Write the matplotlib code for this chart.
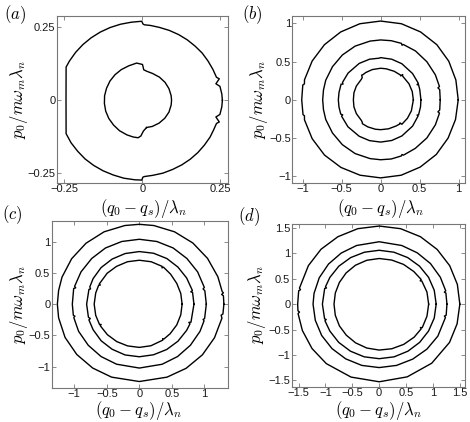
import matplotlib
matplotlib.use('Agg')
import matplotlib.pyplot as plt
import numpy as np

plt.rcParams['mathtext.fontset'] = 'cm'
plt.rcParams['font.family'] = ['Liberation Sans', 'DejaVu Sans']

# ---------------- data: closed orbits as (angle in degrees, radius) ----------------
# panel (a)
A_OUT = [(0, 0.258), (5, 0.257), (10.9, 0.2546), (13.5, 0.2438), (16.6, 0.2588),
         (18.3, 0.2517), (25, 0.251), (32.5, 0.251), (40, 0.252), (47.5, 0.252),
         (55, 0.253), (62.5, 0.254), (70, 0.255), (77.5, 0.256), (84, 0.258), (88.5, 0.259),
         (89.5, 0.262), (90.3, 0.271), (97.5, 0.270), (105, 0.270), (112.5, 0.270),
         (120, 0.270), (127.5, 0.270), (135, 0.270), (142.5, 0.270), (150, 0.270),
         (155, 0.270), (180, 0.245), (205, 0.270), (212.5, 0.271), (220, 0.271),
         (227.5, 0.272), (235, 0.272), (242.5, 0.272), (250, 0.272), (257.5, 0.273),
         (265, 0.273), (269.7, 0.273), (270.5, 0.263), (271.5, 0.261), (277.5, 0.259),
         (285, 0.258), (292.5, 0.256), (300, 0.255), (307.5, 0.254), (315, 0.253),
         (322.5, 0.252), (330, 0.252), (336, 0.251), (341.7, 0.2517), (343.4, 0.2588),
         (346.5, 0.2438), (349.1, 0.2546), (355, 0.257)]
A_IN = [(-81.4, 0.094), (-70, 0.095), (-55, 0.095), (-40, 0.095), (-25, 0.095),
        (-10, 0.0945), (0, 0.0945), (10, 0.0945), (25, 0.095), (40, 0.096), (55, 0.097),
        (70, 0.098), (82, 0.101), (87.3, 0.105), (89.5, 0.123), (98, 0.129), (110, 0.126),
        (122.5, 0.125), (135, 0.124), (147.5, 0.123), (160, 0.122), (172.5, 0.122),
        (185, 0.122), (197.5, 0.123), (210, 0.124), (222.5, 0.125), (235, 0.127),
        (247.5, 0.128), (257, 0.1287), (264.2, 0.1287), (268, 0.122), (272.2, 0.105)]

# panel (b)
B_1 = [(0, 0.996), (15, 1.0), (30, 1.01), (45, 1.02), (60, 1.025), (75, 1.03), (90, 1.03),
       (105, 1.03), (120, 1.025), (135, 1.02), (150, 1.015), (165, 1.012), (168, 1.0),
       (169, 1.018), (180, 1.013), (191, 1.015), (192, 1.0), (195, 1.012), (210, 1.015),
       (225, 1.02), (240, 1.02), (255, 1.02), (270, 1.02), (285, 1.02), (300, 1.015),
       (315, 1.01), (330, 1.0), (345, 0.995)]
B_2 = [(0, 0.765), (10, 0.77), (12, 0.752), (13, 0.775), (25, 0.775), (40, 0.775),
       (55, 0.78), (68, 0.78), (69, 0.765), (70, 0.785), (80, 0.785), (90, 0.783),
       (100, 0.78), (115, 0.775), (130, 0.765), (145, 0.755), (160, 0.75), (170, 0.745),
       (180, 0.744), (190, 0.745), (200, 0.75), (215, 0.755), (230, 0.765), (245, 0.775),
       (260, 0.78), (270, 0.783), (280, 0.785), (290, 0.78), (291, 0.765), (292, 0.78),
       (305, 0.775), (320, 0.775), (335, 0.775), (347, 0.775), (348, 0.752), (350, 0.77)]
B_3 = [(0, 0.517), (15, 0.52), (22, 0.525), (23, 0.508), (24, 0.53), (40, 0.535),
       (60, 0.545), (75, 0.55), (90, 0.552), (92, 0.545), (105, 0.55), (120, 0.55),
       (140, 0.545), (155, 0.54), (157, 0.525), (158, 0.548), (170, 0.543), (180, 0.543),
       (190, 0.543), (200, 0.545), (202, 0.525), (203, 0.545), (220, 0.548), (240, 0.55),
       (255, 0.552), (270, 0.552), (285, 0.55), (300, 0.545), (320, 0.535), (336, 0.525),
       (337, 0.508), (338, 0.525), (350, 0.52)]
B_4 = [(0, 0.42), (15, 0.42), (30, 0.42), (48, 0.42), (49.5, 0.435), (50.5, 0.405),
       (52, 0.412), (65, 0.412), (80, 0.412), (90, 0.413), (105, 0.41), (118, 0.405),
       (125, 0.40), (127, 0.405), (129, 0.375), (133, 0.365), (150, 0.36), (165, 0.355),
       (180, 0.35), (195, 0.355), (210, 0.36), (227, 0.365), (231, 0.375), (233, 0.39),
       (245, 0.39), (260, 0.39), (270, 0.39), (285, 0.392), (300, 0.395), (308, 0.40),
       (309.5, 0.39), (310.5, 0.42), (325, 0.42), (340, 0.42)]

# panel (c)
C_1 = [(0, 1.30), (6, 1.30), (7, 1.275), (8, 1.305), (9, 1.29), (20, 1.285), (35, 1.28),
       (50, 1.28), (65, 1.28), (80, 1.28), (90, 1.28), (100, 1.28), (115, 1.28),
       (130, 1.275), (145, 1.27), (160, 1.265), (170, 1.26), (180, 1.26), (190, 1.26),
       (205, 1.26), (220, 1.255), (235, 1.25), (250, 1.245), (270, 1.24), (290, 1.245),
       (305, 1.255), (320, 1.265), (335, 1.275), (350, 1.29), (352, 1.27), (353, 1.295)]
C_2 = [(0, 1.03), (12, 1.03), (14, 1.01), (15, 1.035), (30, 1.035), (45, 1.035),
       (60, 1.04), (75, 1.04), (90, 1.04), (105, 1.04), (120, 1.04), (135, 1.035),
       (150, 1.035), (164, 1.035), (165, 1.012), (166, 1.04), (180, 1.03), (190, 1.03),
       (191, 1.008), (192, 1.03), (205, 1.03), (220, 1.025), (235, 1.025), (250, 1.024),
       (270, 1.024), (290, 1.025), (305, 1.025), (320, 1.025), (335, 1.03), (345, 1.03),
       (346, 1.01), (347, 1.03)]
C_3 = [(0, 0.84), (13, 0.84), (14, 0.815), (15, 0.845), (30, 0.84), (45, 0.84),
       (60, 0.845), (75, 0.845), (90, 0.843), (105, 0.84), (120, 0.835), (135, 0.83),
       (150, 0.82), (160, 0.81), (162, 0.788), (163, 0.81), (180, 0.81), (195, 0.81),
       (197, 0.788), (198, 0.815), (210, 0.82), (225, 0.83), (240, 0.835), (255, 0.843),
       (270, 0.843), (285, 0.84), (300, 0.84), (315, 0.84), (330, 0.84), (338, 0.84),
       (339, 0.815), (340, 0.845)]
C_4 = [(0, 0.658), (15, 0.66), (30, 0.665), (45, 0.68), (58, 0.70), (59, 0.678),
       (60, 0.70), (75, 0.704), (90, 0.704), (105, 0.704), (120, 0.70), (135, 0.70),
       (152, 0.695), (153, 0.673), (154, 0.695), (165, 0.694), (180, 0.694), (195, 0.694),
       (208, 0.693), (209, 0.671), (210, 0.693), (225, 0.693), (240, 0.693), (255, 0.693),
       (270, 0.693), (285, 0.69), (302, 0.68), (303, 0.658), (304, 0.675), (315, 0.67),
       (330, 0.665), (345, 0.66)]

# panel (d)
D_1 = [(0, 1.50), (15, 1.505), (30, 1.515), (45, 1.525), (60, 1.535), (75, 1.54),
       (90, 1.54), (105, 1.54), (120, 1.535), (135, 1.53), (150, 1.52), (168, 1.516),
       (169, 1.49), (170, 1.52), (180, 1.516), (185, 1.516), (186, 1.49), (187, 1.52),
       (200, 1.52), (215, 1.525), (230, 1.53), (250, 1.53), (270, 1.53), (290, 1.525),
       (310, 1.52), (330, 1.51), (345, 1.50)]
D_2 = [(0, 1.26), (10, 1.26), (11, 1.235), (12, 1.265), (25, 1.255), (40, 1.245),
       (55, 1.235), (70, 1.23), (90, 1.23), (110, 1.23), (125, 1.23), (140, 1.23),
       (155, 1.23), (170, 1.23), (180, 1.23), (195, 1.23), (210, 1.235), (225, 1.24),
       (240, 1.245), (255, 1.25), (270, 1.25), (285, 1.25), (300, 1.25), (315, 1.255),
       (330, 1.26), (348, 1.26), (349, 1.235), (350, 1.265)]
D_3 = [(0, 1.06), (15, 1.06), (30, 1.06), (45, 1.06), (60, 1.06), (75, 1.06),
       (90, 1.062), (105, 1.06), (120, 1.06), (135, 1.06), (150, 1.058), (161, 1.056),
       (162, 1.03), (163, 1.06), (180, 1.056), (196, 1.056), (197, 1.03), (198, 1.06),
       (210, 1.06), (225, 1.065), (240, 1.07), (255, 1.075), (270, 1.075), (285, 1.075),
       (300, 1.07), (315, 1.065), (330, 1.06), (345, 1.06)]
D_4 = [(0, 0.92), (15, 0.92), (30, 0.915), (31, 0.89), (32, 0.92), (45, 0.91),
       (60, 0.905), (75, 0.90), (90, 0.90), (105, 0.895), (120, 0.885), (135, 0.87),
       (150, 0.855), (165, 0.845), (180, 0.84), (195, 0.845), (210, 0.855), (225, 0.865),
       (240, 0.88), (255, 0.895), (270, 0.905), (285, 0.91), (300, 0.915), (315, 0.92),
       (328, 0.92), (329, 0.895), (330, 0.925), (345, 0.92)]

TICKS_A = [-0.25, 0, 0.25]
TICKLABELS_A = ['\u22120.25', '0', '0.25']
TICKS_BC = [-1, -0.5, 0, 0.5, 1]
TICKLABELS_BC = ['\u22121', '\u22120.5', '0', '0.5', '1']
TICKS_D = [-1.5, -1, -0.5, 0, 0.5, 1, 1.5]
TICKLABELS_D = ['\u22121.5', '\u22121', '\u22120.5', '0', '0.5', '1', '1.5']

XLABEL = r'$(q_0-q_s)/\lambda_n$'
YLABEL = r'$p_0/m\omega_m\lambda_n$'

# ---------------- figure ----------------
W, H = 470, 422
fig = plt.figure(figsize=(W / 100, H / 100), dpi=100)


def add_ax(l, r, t, b):
    return fig.add_axes([l / W, 1 - b / H, (r - l) / W, (b - t) / H])


def to_xy(curve):
    th = np.deg2rad([c[0] for c in curve] + [curve[0][0] + 360])
    r = np.array([c[1] for c in curve] + [curve[0][1]])
    return r * np.cos(th), r * np.sin(th)


def style(ax, ticks, labels, xlim, ylim):
    ax.set_xlim(*xlim)
    ax.set_ylim(*ylim)
    ax.set_xticks(ticks)
    ax.set_xticklabels(labels)
    ax.set_yticks(ticks)
    ax.set_yticklabels(labels)
    for s in ax.spines.values():
        s.set_color('#777777')
        s.set_linewidth(0.8)
    ax.tick_params(direction='in', length=3, width=0.6, top=True, right=True,
                   colors='#777777', labelcolor='#1a1a1a', labelsize=8, pad=1)


panels = [
    dict(box=(57, 228, 16, 183), curves=[A_OUT, A_IN], ticks=TICKS_A, labels=TICKLABELS_A,
         xlim=(-0.274, 0.276), ylim=(-0.283, 0.289), tag=r'$(a)$', tagpos=(15, 15),
         xl=(143, 208), yl=(19, 100)),
    dict(box=(292.3, 465, 16, 183), curves=[B_1, B_2, B_3, B_4], ticks=TICKS_BC,
         labels=TICKLABELS_BC, xlim=(-1.134, 1.083), ylim=(-1.087, 1.096), tag=r'$(b)$',
         tagpos=(252, 15), xl=(380, 208), yl=(259, 100)),
    dict(box=(51.7, 228.3, 221, 387.7), curves=[C_1, C_2, C_3, C_4], ticks=TICKS_BC,
         labels=TICKLABELS_BC, xlim=(-1.347, 1.368), ylim=(-1.339, 1.333), tag=r'$(c)$',
         tagpos=(12, 215), xl=(138, 410), yl=(19, 305)),
    dict(box=(291.7, 465, 224.3, 387), curves=[D_1, D_2, D_3, D_4], ticks=TICKS_D,
         labels=TICKLABELS_D, xlim=(-1.627, 1.596), ylim=(-1.633, 1.574), tag=r'$(d)$',
         tagpos=(249, 217), xl=(378, 410), yl=(257, 305)),
]

for p in panels:
    ax = add_ax(*p['box'])
    for c in p['curves']:
        x, y = to_xy(c)
        ax.plot(x, y, color='black', lw=1.0, solid_joinstyle='round')
    style(ax, p['ticks'], p['labels'], p['xlim'], p['ylim'])
    fig.text(p['tagpos'][0] / W, 1 - p['tagpos'][1] / H, p['tag'], fontsize=12,
             ha='center', va='center')
    fig.text(p['xl'][0] / W, 1 - p['xl'][1] / H, XLABEL, fontsize=12,
             ha='center', va='center')
    fig.text(p['yl'][0] / W, 1 - p['yl'][1] / H, YLABEL, fontsize=12,
             ha='center', va='center', rotation=90)

fig.savefig('out.png', dpi=100)
